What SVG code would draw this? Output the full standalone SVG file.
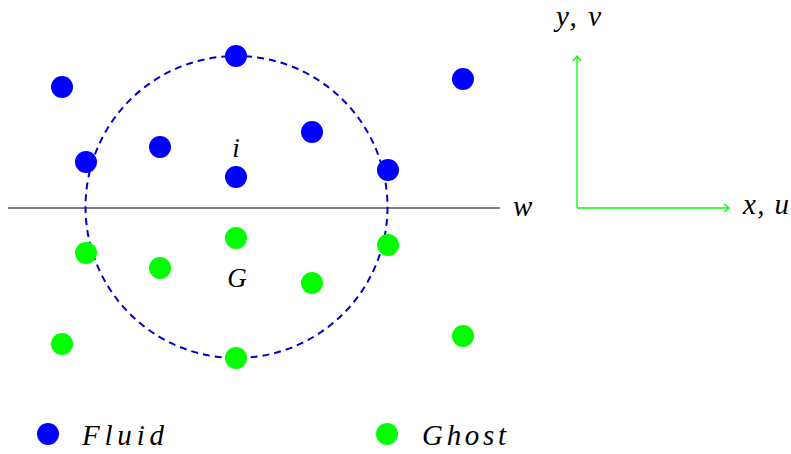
<svg xmlns="http://www.w3.org/2000/svg" width="791" height="454" viewBox="0 0 791 454">
<style>
.f{fill:#0000ff}
.g{fill:#00ff00}
text{font-family:"Liberation Serif",serif;font-style:italic;font-size:29px;fill:#000}
.sm{font-size:27px}
.ax{stroke:#00ff00;stroke-width:1.3;fill:none}
</style>
<defs>
<marker id="ah" markerWidth="10" markerHeight="10" refX="7" refY="5" orient="auto" markerUnits="userSpaceOnUse">
<path d="M2,1 L7,5 L2,9" fill="none" stroke="#00ff00" stroke-width="1.3"/>
</marker>
</defs>
<rect width="791" height="454" fill="#fff"/>
<g id="connectors">
<line x1="8" y1="208" x2="500" y2="208" stroke="#000" stroke-width="1"/>
<circle cx="236.5" cy="207" r="151" fill="none" stroke="#0000cc" stroke-width="2" stroke-dasharray="7,5"/>
<line class="ax" x1="577" y1="208" x2="729" y2="208" marker-end="url(#ah)"/>
<line class="ax" x1="577" y1="208" x2="577" y2="56" marker-end="url(#ah)"/>
</g>
<g id="fluid">
<circle class="f" cx="62" cy="87" r="11"/>
<circle class="f" cx="236" cy="56" r="11"/>
<circle class="f" cx="463" cy="79" r="11"/>
<circle class="f" cx="160" cy="147" r="11"/>
<circle class="f" cx="312" cy="132" r="11"/>
<circle class="f" cx="86" cy="162" r="11"/>
<circle class="f" cx="388" cy="170" r="11"/>
<circle class="f" cx="236" cy="177" r="11"/>
</g>
<g id="ghost">
<circle class="g" cx="86" cy="253" r="11"/>
<circle class="g" cx="236" cy="238" r="11"/>
<circle class="g" cx="388" cy="245" r="11"/>
<circle class="g" cx="160" cy="268" r="11"/>
<circle class="g" cx="312" cy="283" r="11"/>
<circle class="g" cx="62" cy="344" r="11"/>
<circle class="g" cx="236" cy="358" r="11"/>
<circle class="g" cx="463" cy="336" r="11"/>
</g>
<g id="labels">
<text class="sm" x="236" y="157" text-anchor="middle">i</text>
<text class="sm" x="237" y="287" text-anchor="middle">G</text>
<text x="513" y="216" textLength="23">w</text>
<text x="556" y="26" textLength="45">y, v</text>
<text x="743" y="214" textLength="46">x, u</text>
</g>
<g id="legend">
<circle class="f" cx="48" cy="434" r="11"/>
<text x="82" y="445" textLength="82">Fluid</text>
<circle class="g" cx="387" cy="434" r="11"/>
<text x="422" y="445" textLength="84">Ghost</text>
</g>
</svg>
